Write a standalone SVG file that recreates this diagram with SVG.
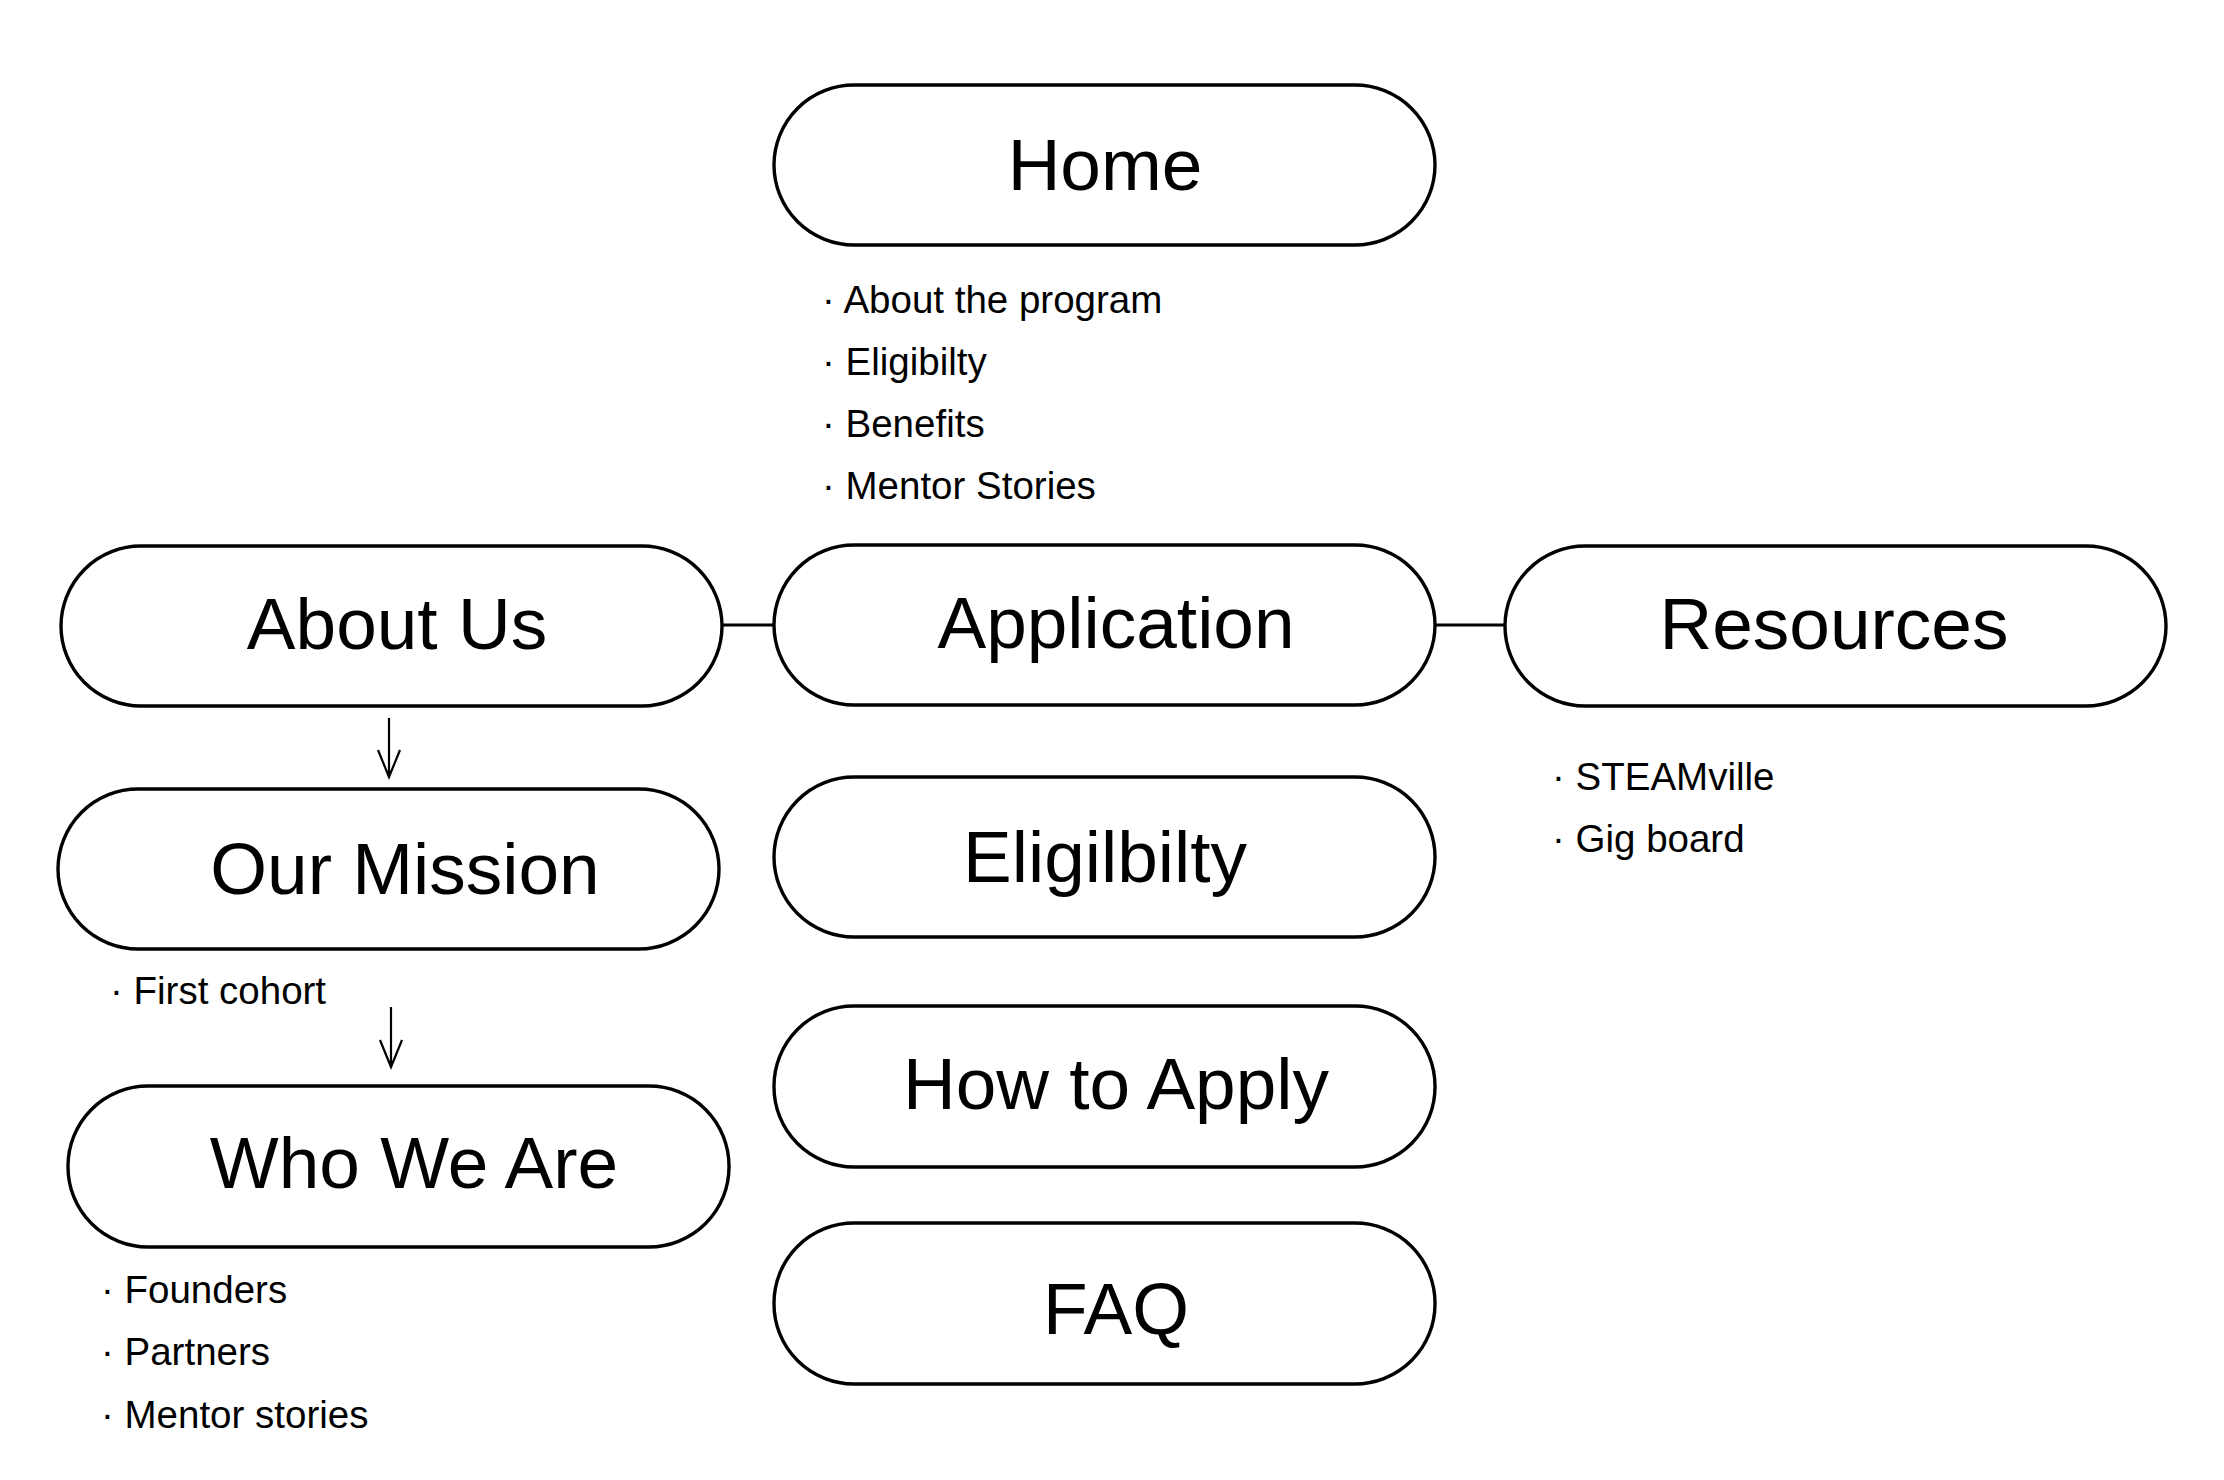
<svg xmlns="http://www.w3.org/2000/svg" width="2224" height="1480" viewBox="0 0 2224 1480">
<style>
.box{fill:#fff;stroke:#000;stroke-width:3.4}
.lbl{font-family:"Liberation Sans",Arial,sans-serif;font-size:73px;fill:#000;text-anchor:middle}
.sub{font-family:"Liberation Sans",Arial,sans-serif;font-size:38.5px;fill:#000}
.con{stroke:#000;stroke-width:3;fill:none}
.arr{stroke:#000;stroke-width:2.2;fill:none}
</style>
<rect width="2224" height="1480" fill="#fff"/>
<g id="connectors">
<line class="con" x1="722" y1="625" x2="774" y2="625"/>
<line class="con" x1="1435" y1="625" x2="1505" y2="625"/>
<path class="arr" d="M389 718 V776 M378 750 L389 777 L400 750"/>
<path class="arr" d="M391 1007 V1066 M380 1040 L391 1067 L402 1040"/>
</g>
<g id="home">
<rect class="box" x="774" y="85" width="661" height="160" rx="80"/>
<text class="lbl" x="1105" y="190">Home</text>
<text class="sub" x="822" y="313">· About the program</text>
<text class="sub" x="822" y="375">· Eligibilty</text>
<text class="sub" x="822" y="437">· Benefits</text>
<text class="sub" x="822" y="499">· Mentor Stories</text>
</g>
<g id="about-us">
<rect class="box" x="61" y="546" width="661" height="160" rx="80"/>
<text class="lbl" x="397" y="649">About Us</text>
</g>
<g id="application">
<rect class="box" x="774" y="545" width="661" height="160" rx="80"/>
<text class="lbl" x="1116" y="648">Application</text>
</g>
<g id="resources">
<rect class="box" x="1505" y="546" width="661" height="160" rx="80"/>
<text class="lbl" x="1834" y="649">Resources</text>
<text class="sub" x="1552" y="790">· STEAMville</text>
<text class="sub" x="1552" y="852">· Gig board</text>
</g>
<g id="our-mission">
<rect class="box" x="58" y="789" width="661" height="160" rx="80"/>
<text class="lbl" x="405" y="894">Our Mission</text>
<text class="sub" x="110" y="1004">· First cohort</text>
</g>
<g id="who-we-are">
<rect class="box" x="68" y="1086" width="661" height="161" rx="80"/>
<text class="lbl" x="414" y="1188">Who We Are</text>
<text class="sub" x="101" y="1303">· Founders</text>
<text class="sub" x="101" y="1365">· Partners</text>
<text class="sub" x="101" y="1428">· Mentor stories</text>
</g>
<g id="eligilbilty">
<rect class="box" x="774" y="777" width="661" height="160" rx="80"/>
<text class="lbl" x="1105" y="882">Eligilbilty</text>
</g>
<g id="how-to-apply">
<rect class="box" x="774" y="1006" width="661" height="161" rx="80"/>
<text class="lbl" x="1116" y="1109">How to Apply</text>
</g>
<g id="faq">
<rect class="box" x="774" y="1223" width="661" height="161" rx="80"/>
<text class="lbl" x="1116" y="1334">FAQ</text>
</g>
</svg>
